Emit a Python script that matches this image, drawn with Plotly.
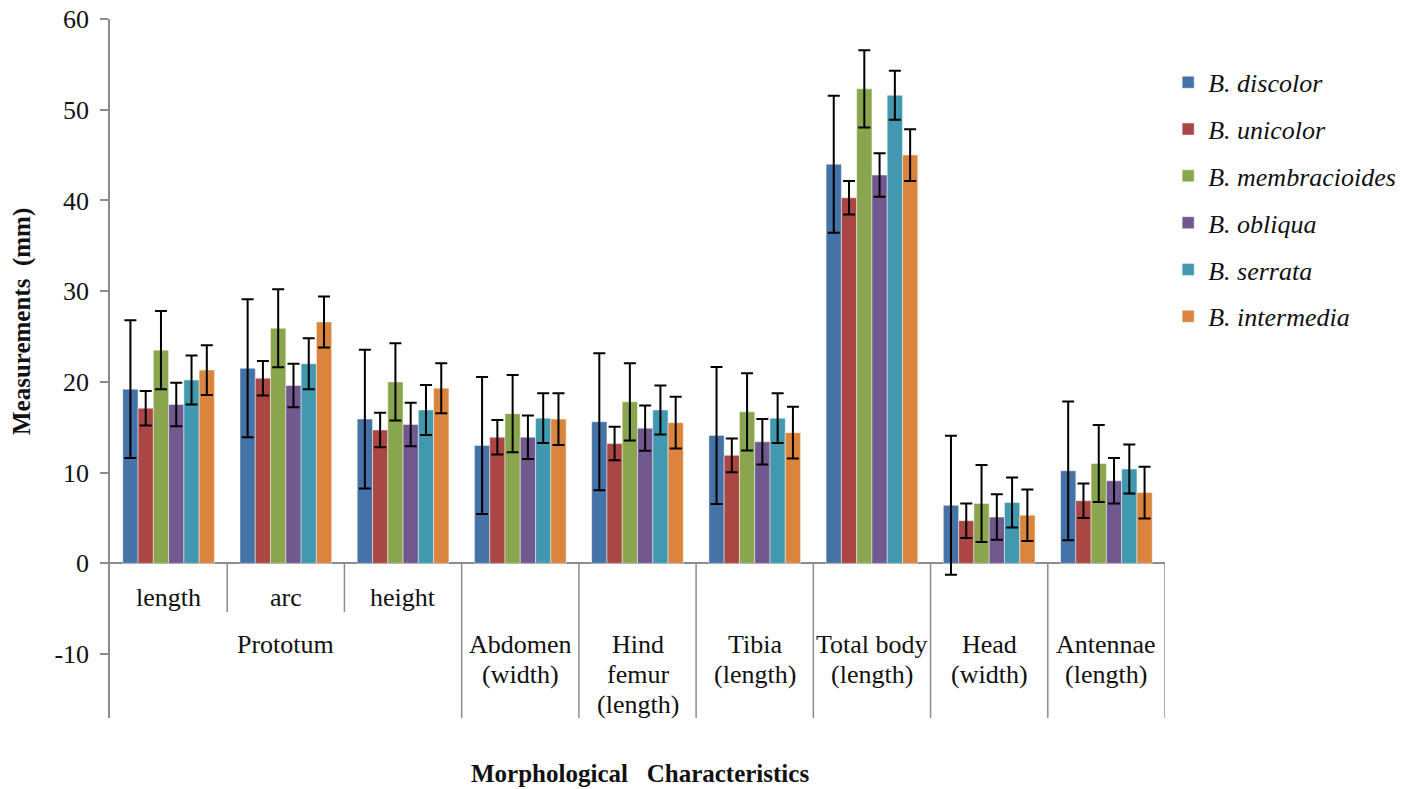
import plotly.graph_objects as go

# ---------------- data ----------------
categories = ["length", "arc", "height", "Abdomen (width)", "Hind femur (length)",
              "Tibia (length)", "Total body (length)", "Head (width)", "Antennae (length)"]
sub_labels = ["length", "arc", "height"]
group_labels = [["Prototum"], ["Abdomen", "(width)"], ["Hind", "femur", "(length)"],
                ["Tibia", "(length)"], ["Total body", "(length)"], ["Head", "(width)"],
                ["Antennae", "(length)"]]
group_centers = [1.5, 3.5, 4.5, 5.5, 6.5, 7.5, 8.5]

series_names = ["B. discolor", "B. unicolor", "B. membracioides",
                "B. obliqua", "B. serrata", "B. intermedia"]

discolor = [19.2, 21.5, 15.9, 13.0, 15.6, 14.1, 44.0, 6.4, 10.2]
unicolor = [17.1, 20.4, 14.7, 13.9, 13.2, 11.9, 40.3, 4.7, 6.9]
membracioides = [23.5, 25.9, 20.0, 16.5, 17.8, 16.7, 52.3, 6.6, 11.0]
obliqua = [17.5, 19.6, 15.3, 13.9, 14.9, 13.4, 42.8, 5.1, 9.1]
serrata = [20.2, 22.0, 16.9, 16.0, 16.9, 16.0, 51.6, 6.7, 10.4]
intermedia = [21.3, 26.6, 19.3, 15.9, 15.5, 14.4, 45.0, 5.3, 7.8]

err_discolor = [7.6, 7.6, 7.65, 7.55, 7.55, 7.55, 7.55, 7.65, 7.65]
err_unicolor = [1.9, 1.9, 1.9, 1.9, 1.85, 1.85, 1.85, 1.9, 1.9]
err_membracioides = [4.3, 4.3, 4.25, 4.25, 4.25, 4.25, 4.25, 4.25, 4.25]
err_obliqua = [2.4, 2.4, 2.4, 2.4, 2.5, 2.5, 2.4, 2.5, 2.5]
err_serrata = [2.7, 2.8, 2.75, 2.75, 2.7, 2.75, 2.7, 2.75, 2.7]
err_intermedia = [2.75, 2.8, 2.75, 2.85, 2.85, 2.85, 2.85, 2.85, 2.85]

values = [discolor, unicolor, membracioides, obliqua, serrata, intermedia]
errors = [err_discolor, err_unicolor, err_membracioides, err_obliqua, err_serrata, err_intermedia]

y_ticks = [-10, 0, 10, 20, 30, 40, 50, 60]
y_tick_text = ["-10", "0", "10", "20", "30", "40", "50", "60"]

# ---------------- style ----------------
colors = ["#4572A7", "#AA4643", "#89A54E", "#71588F", "#4198AF", "#DB843D"]
FONT = "Liberation Serif"
AXIS_GRAY = "#8c8c8c"
Y_MIN, Y_MAX = -17.05, 60
TXT = 26

x_pos = [i + 0.5 for i in range(len(categories))]

fig = go.Figure()
for name, vals, errs, col in zip(series_names, values, errors, colors):
    fig.add_trace(go.Bar(
        x=x_pos, y=vals, name=name, legendgroup=name,
        marker=dict(color=col, line=dict(color="rgba(255,255,255,0.45)", width=1)),
        error_y=dict(type="data", array=errs, visible=True, color="black",
                     thickness=2, width=6),
    ))

# category separator lines below the axis
shapes = []
n = len(categories)
for k in range(1, n + 1):
    y_end = -5.37 if k in (1, 2) else Y_MIN
    shapes.append(dict(type="line", xref="x", yref="y", x0=k, x1=k, y0=0, y1=y_end,
                       line=dict(color=AXIS_GRAY, width=1.5)))

annotations = []
for i, lab in enumerate(sub_labels):
    annotations.append(dict(x=x_pos[i], y=-3.82, xref="x", yref="y", text=lab,
                            showarrow=False, xanchor="center", yanchor="middle",
                            font=dict(family=FONT, size=TXT, color="#111")))
line_y = [-9.0, -12.3, -15.6]
for cx, lines in zip(group_centers, group_labels):
    for j, t in enumerate(lines):
        annotations.append(dict(x=cx, y=line_y[j], xref="x", yref="y", text=t,
                                showarrow=False, xanchor="center", yanchor="middle",
                                font=dict(family=FONT, size=TXT, color="#111")))

annotations.append(dict(x=-0.0834, y=0.5665, xref="paper", yref="paper",
                        text="<b>Measurements\u00a0\u00a0(mm)</b>", textangle=-90,
                        showarrow=False, xanchor="center", yanchor="middle",
                        font=dict(family=FONT, size=25, color="#111")))
annotations.append(dict(x=0.5024, y=-0.0787, xref="paper", yref="paper",
                        text="<b>Morphological\u00a0\u00a0\u00a0Characteristics</b>",
                        showarrow=False, xanchor="center", yanchor="middle",
                        font=dict(family=FONT, size=25, color="#111")))

fig.update_layout(
    width=1413, height=789,
    margin=dict(l=110, r=248, t=19, b=71, pad=0, autoexpand=False),
    paper_bgcolor="white", plot_bgcolor="white",
    barmode="group", bargap=0.218, bargroupgap=0,
    font=dict(family=FONT, size=TXT, color="#111"),
    showlegend=True,
    legend=dict(x=1.003, y=0.943, xanchor="left", yanchor="top",
                font=dict(family=FONT, size=TXT, color="#111", style="italic"),
                tracegroupgap=10, itemwidth=30, bgcolor="rgba(0,0,0,0)"),
    shapes=shapes, annotations=annotations,
    xaxis=dict(range=[0, n], showticklabels=False, ticks="", showgrid=False,
               zeroline=False, showline=False, fixedrange=True, automargin=False),
    yaxis=dict(range=[Y_MIN, Y_MAX], tickvals=y_ticks, ticktext=y_tick_text,
               ticks="outside", ticklen=8, automargin=False,
               tickcolor=AXIS_GRAY, tickwidth=1.5, showgrid=False, showline=True,
               linecolor=AXIS_GRAY, linewidth=1.5, zeroline=True,
               zerolinecolor=AXIS_GRAY, zerolinewidth=1.5,
               ticklabelstandoff=6,
               tickfont=dict(family=FONT, size=TXT, color="#111")),
)

fig.write_html("out.html")
